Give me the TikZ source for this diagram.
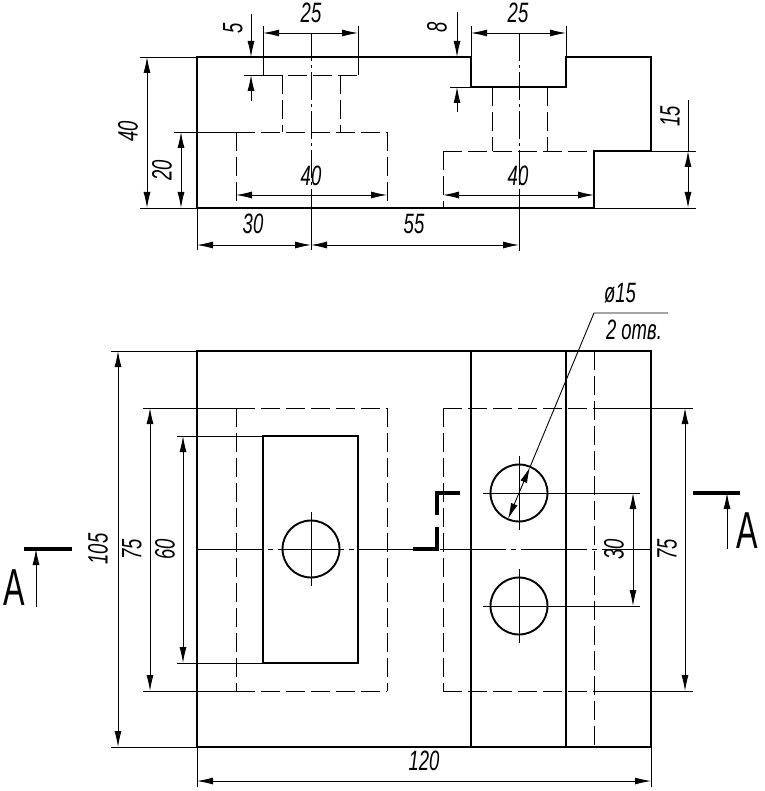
\documentclass[tikz,border=0pt]{standalone}
\usepackage{fontspec}
\usepackage{graphicx}
\setmainfont{Liberation Sans}
\usetikzlibrary{arrows.meta}
\newcommand{\narrowtxt}[1]{\scalebox{.66}[1]{\itshape #1}}
\tikzset{
    contour/.style={line width=2.1pt, line cap=rect},
    thinline/.style={line width=.9pt},
    hidden/.style={line width=.9pt, dash pattern=on 19pt off 6pt},
    axisline/.style={line width=.9pt, dash pattern=on 28pt off 4pt on 3pt off 4pt},
    cutline/.style={line width=3.6pt},
    dimarrow/.style={thinline, {Latex[length=16pt,width=7pt]}-{Latex[length=16pt,width=7pt]}},
    onearrow/.style={thinline, -{Latex[length=16pt,width=7pt]}},
    dimtext/.style={inner sep=0pt, font=\fontsize{28}{28}\selectfont},
    sectext/.style={inner sep=0pt, font=\fontsize{52}{52}\selectfont},
}
\begin{document}
\begin{tikzpicture}[x=1pt, y=-1pt]
        \useasboundingbox (0,0) rectangle (764,791);
        \fill[white] (0,0) rectangle (764,791);
        \draw[contour] (197,57) -- (471,57) -- (471,87) -- (566,87) -- (566,57) -- (651,57) -- (651,151) -- (594,151) -- (594,208) -- (197,208) -- cycle;
        \draw[contour] (197,351) rectangle (651,747);
        \draw[contour] (263,436) rectangle (358,663);
        \foreach \i in {471, 566}{
            \draw[contour] (\i,351) -- (\i,747);
        }
        \foreach \i\j in {311/549, 519/493, 519/606}{
            \draw[line width=1.9pt] (\i,\j) circle (28.5);
            \draw[thinline] (\i,\j-37) -- (\i,\j+37);
        }
        \draw[thinline] (283,549) -- (340,549);
        % hidden edges
        \foreach \a\b\c\d in {263/75/358/75, 282/75/282/132, 340/75/340/132, 236/132/387/132, 236/132/236/208, 387/132/387/208,
            443/151/594/151, 443/151/443/208, 492/87/492/151, 547/87/547/151, 594/351/594/747,
            236/408/387/408, 236/408/236/691, 236/691/387/691, 387/408/387/691,
            443/408/594/408, 443/408/443/691, 443/691/594/691}{
            \draw[hidden] (\a,\b) -- (\c,\d);
        }
        % centre lines
        \foreach \a\b\c\d in {311/33/311/208, 519/33/519/208}{
            \draw[axisline] (\a,\b) -- (\c,\d);
        }
        \draw[axisline, dash pattern=on 66pt off 5pt on 5pt off 5pt] (197,549) -- (651,549);
        % extension lines
        \foreach \a\b\c\d in {140/57/197/57, 140/208/197/208, 174/132/236/132, 263/26/263/75, 358/26/358/75, 244/75/263/75,
            471/26/471/57, 566/26/566/57, 450/87/471/87, 651/151/696/151, 594/208/696/208,
            197/208/197/250, 311/208/311/250, 519/208/519/251, 111/351/197/351, 111/747/197/747,
            143/408/236/408, 143/691/236/691, 177/436/263/436, 177/663/263/663, 483/493/640/493, 483/606/640/606,
            594/408/693/408, 594/691/693/691, 197/747/197/787, 651/747/651/787, 688/100/688/151}{
            \draw[thinline] (\a,\b) -- (\c,\d);
        }
        % dimensions
        \foreach \a\b\c\d in {263/33/358/33, 471/33/566/33, 236/195/387/195, 443/195/594/195, 147/57/147/208, 181/132/181/208,
            688/151/688/208, 197/245/311/245, 311/245/519/245, 118/351/118/747, 150/408/150/691, 183/436/183/663,
            633/493/633/606, 685/408/685/691, 197/781/651/781, 530/467/508/519}{
            \draw[dimarrow] (\a,\b) -- (\c,\d);
        }
        \foreach \a\b\c\d in {251/14/251/57, 251/101/251/75, 457/12/457/57, 457/112/457/87, 727/549/727/493, 36/607/36/549}{
            \draw[onearrow] (\a,\b) -- (\c,\d);
        }
        \draw[thinline] (530,467) -- (594,313) -- (668,313);
        % section marks
        \draw[cutline] (24,549) -- (72,549);
        \draw[cutline] (693,493) -- (740,493);
        \draw[cutline] (413,549) -- (437,549) -- (437,527);
        \draw[cutline] (437,515) -- (437,493) -- (460,493);
        % labels
        \foreach \n\i\j\k in {a/311/13/25, b/518/13/25, c/311/176/40, d/518/176/40, e/253/224/30, f/414/224/55, g/424/761/120}{
            \node[dimtext] (l\n) at (\i,\j) {\narrowtxt{\k}};
        }
        \foreach \n\i\j\k in {h/128/131/40, m/162/170/20, o/233/28/5, p/437/27/8, q/670/116/15, r/98/549/105, s/132/549/75, t/165/549/60, u/614/549/30, v/667/549/75}{
            \node[dimtext, rotate=90] (l\n) at (\i,\j) {\narrowtxt{\k}};
        }
        \node[dimtext] (dia) at (620,293) {\narrowtxt{ø15}};
        \node[dimtext] (holes) at (634,330) {\narrowtxt{2 отв.}};
        \node[sectext] (secl) at (14,588) {\scalebox{.62}[1]{A}};
        \node[sectext] (secr) at (747,531) {\scalebox{.62}[1]{A}};
    \end{tikzpicture}
\end{document}
